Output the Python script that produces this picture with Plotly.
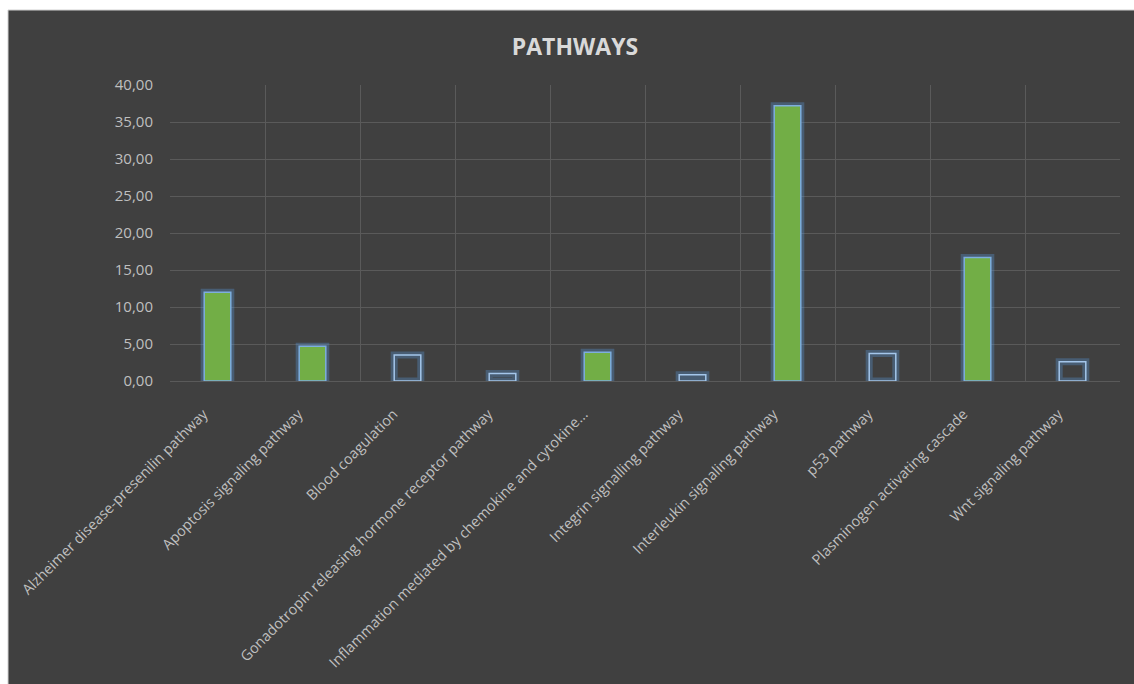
import plotly.graph_objects as go

# Pathway categories and their scores
categories = [
    "Alzheimer disease-presenilin pathway",
    "Apoptosis signaling pathway",
    "Blood coagulation",
    "Gonadotropin releasing hormone receptor pathway",
    "Inflammation mediated by chemokine and cytokine...",
    "Integrin signalling pathway",
    "Interleukin signaling pathway",
    "p53 pathway",
    "Plasminogen activating cascade",
    "Wnt signaling pathway",
]
values = [12.0, 4.7, 3.5, 1.0, 3.9, 0.85, 37.2, 3.7, 16.7, 2.6]

# Pathways shown as outlined (unfilled) bars
outlined = {
    "Blood coagulation",
    "Gonadotropin releasing hormone receptor pathway",
    "Integrin signalling pathway",
    "p53 pathway",
    "Wnt signaling pathway",
}

y_ticks = [0, 5, 10, 15, 20, 25, 30, 35, 40]

BG = "#404040"
GRID = "#5a5a5a"
TEXT = "#bfbfbf"
GREEN = "#72ae46"

W, H = 1134, 684
ML, MR, MT, MB = 170, 14, 85, 303

fill_colors = ["rgba(0,0,0,0)" if c in outlined else GREEN for c in categories]
edge_colors = ["#a4c6ea" if c in outlined else "#7eaede" for c in categories]

fig = go.Figure()

# soft blue glow around each bar
fig.add_trace(go.Bar(
    x=categories, y=values, width=0.28,
    marker=dict(color="rgba(0,0,0,0)",
                line=dict(color="rgba(91,155,225,0.32)", width=7)),
    hoverinfo="skip", showlegend=False,
))
# the bars themselves
fig.add_trace(go.Bar(
    x=categories, y=values, width=0.28,
    marker=dict(color=fill_colors, line=dict(color=edge_colors, width=1.5)),
    showlegend=False,
))

pw = W - ML - MR
ph = H - MT - MB
# chart area panel with a thin light frame on the top/left edges
fig.add_shape(
    type="rect", xref="paper", yref="paper", layer="below",
    x0=(8 - ML) / pw, x1=(W + 5 - ML) / pw,
    y0=-(MB + 5) / ph, y1=1 + (MT - 10) / ph,
    fillcolor=BG, line=dict(color="#d0d0d0", width=1),
)

fig.update_layout(
    width=W, height=H,
    margin=dict(l=ML, r=MR, t=MT, b=MB, autoexpand=False),
    paper_bgcolor="white",
    plot_bgcolor=BG,
    barmode="overlay",
    separators=",.",
    font=dict(family="Open Sans", color=TEXT, size=14),
    title=dict(text="<b>PATHWAYS</b>", x=(575 - ML) / pw, xref="paper",
               xanchor="center", y=1 - 47 / H, yanchor="middle",
               font=dict(size=23, color="#d9d9d9", family="Open Sans")),
)

fig.update_xaxes(
    type="category", tickangle=-45, tickson="boundaries",
    showgrid=True, gridcolor=GRID, gridwidth=1,
    showline=True, linecolor=GRID, linewidth=1,
    ticks="", ticklen=0,
    ticklabelshift=-14, ticklabelstandoff=18,
    tickfont=dict(size=14.5, color=TEXT),
    range=[-0.5, len(categories) - 0.5],
)
fig.update_yaxes(
    range=[0, 40], tickvals=y_ticks, tickformat=".2f",
    showgrid=True, gridcolor=GRID, gridwidth=1,
    zeroline=False, showline=False, ticks="",
    ticklabelstandoff=16,
    tickfont=dict(size=15, color=TEXT),
)

fig.write_html("out.html")
